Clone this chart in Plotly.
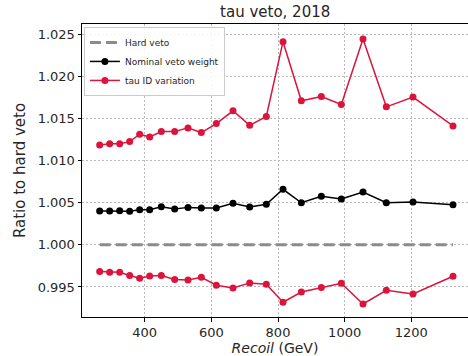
import plotly.graph_objects as go

recoil = [265, 295, 325, 355, 385, 415, 450, 490, 530, 570, 615, 665,
          715, 765, 815, 870, 930, 990, 1055, 1125, 1205, 1325]
hard_veto = [1.0] * len(recoil)
nominal = [1.00401, 1.00401, 1.00405, 1.00398, 1.00417, 1.00417, 1.00452, 1.00425,
           1.00445, 1.00437, 1.00437, 1.00493, 1.00449, 1.00481, 1.00660, 1.00500,
           1.00576, 1.00544, 1.00627, 1.00500, 1.00508, 1.00476]
tau_up = [1.01187, 1.01202, 1.01202, 1.01226, 1.01314, 1.01282, 1.01345, 1.01345,
          1.01389, 1.01333, 1.01440, 1.01592, 1.01419, 1.01524, 1.02413, 1.01711,
          1.01762, 1.01667, 1.02445, 1.01639, 1.01755, 1.01413]
tau_down = [0.99683, 0.99675, 0.99675, 0.99636, 0.99604, 0.99631, 0.99636, 0.99588,
            0.99583, 0.99615, 0.99520, 0.99488, 0.99548, 0.99532, 0.99318, 0.99440,
            0.99493, 0.99544, 0.99298, 0.99461, 0.99417, 0.99627]

RED = "#dc143c"
FONT = "DejaVu Sans"
TXT = "#262626"

fig = go.Figure()
fig.add_trace(go.Scatter(x=recoil, y=hard_veto, mode="lines", name="Hard veto",
                         line=dict(color="rgba(128,128,128,0.9)", width=3, dash="11px,5px")))
fig.add_trace(go.Scatter(x=recoil, y=nominal, mode="lines+markers", name="Nominal veto weight",
                         line=dict(color="black", width=1.5),
                         marker=dict(color="black", size=7)))
fig.add_trace(go.Scatter(x=recoil, y=tau_up, mode="lines+markers", name="tau ID variation",
                         line=dict(color=RED, width=1.5),
                         marker=dict(color=RED, size=7)))
fig.add_trace(go.Scatter(x=recoil, y=tau_down, mode="lines+markers", name="tau ID variation",
                         showlegend=False,
                         line=dict(color=RED, width=1.5),
                         marker=dict(color=RED, size=7)))

axis_common = dict(showline=True, linecolor="black", linewidth=1, mirror=True,
                   ticks="outside", ticklen=3.5, tickcolor="black",
                   showgrid=True, gridcolor="#b8b8b8", griddash="2px,2px", gridwidth=0.8,
                   zeroline=False, tickfont=dict(family=FONT, size=13, color=TXT))

fig.update_xaxes(range=[212, 1370], tickvals=[400, 600, 800, 1000, 1200],
                 title=dict(text="<i>Recoil</i> (GeV)", font=dict(family=FONT, size=14, color=TXT),
                            standoff=0),
                 **axis_common)
fig.update_yaxes(range=[0.99143, 1.02623],
                 tickvals=[0.995, 1.000, 1.005, 1.010, 1.015, 1.020, 1.025],
                 tickformat=".3f",
                 title=dict(text="Ratio to hard veto", font=dict(family=FONT, size=15, color=TXT),
                            standoff=8),
                 **axis_common)

fig.update_layout(
    width=468, height=356,
    margin=dict(l=82, r=0, t=24, b=39),
    paper_bgcolor="white", plot_bgcolor="white",
    title=dict(text="tau veto, 2018", x=0.588, xanchor="center", y=0.966, yanchor="middle",
               font=dict(family=FONT, size=15, color=TXT)),
    legend=dict(x=0.005, y=0.99, xanchor="left", yanchor="top",
                bgcolor="rgba(255,255,255,0.85)", bordercolor="#cccccc", borderwidth=1,
                font=dict(family=FONT, size=9, color=TXT), itemwidth=30,
                tracegroupgap=0),
    showlegend=True,
)

fig.write_html("out.html")
